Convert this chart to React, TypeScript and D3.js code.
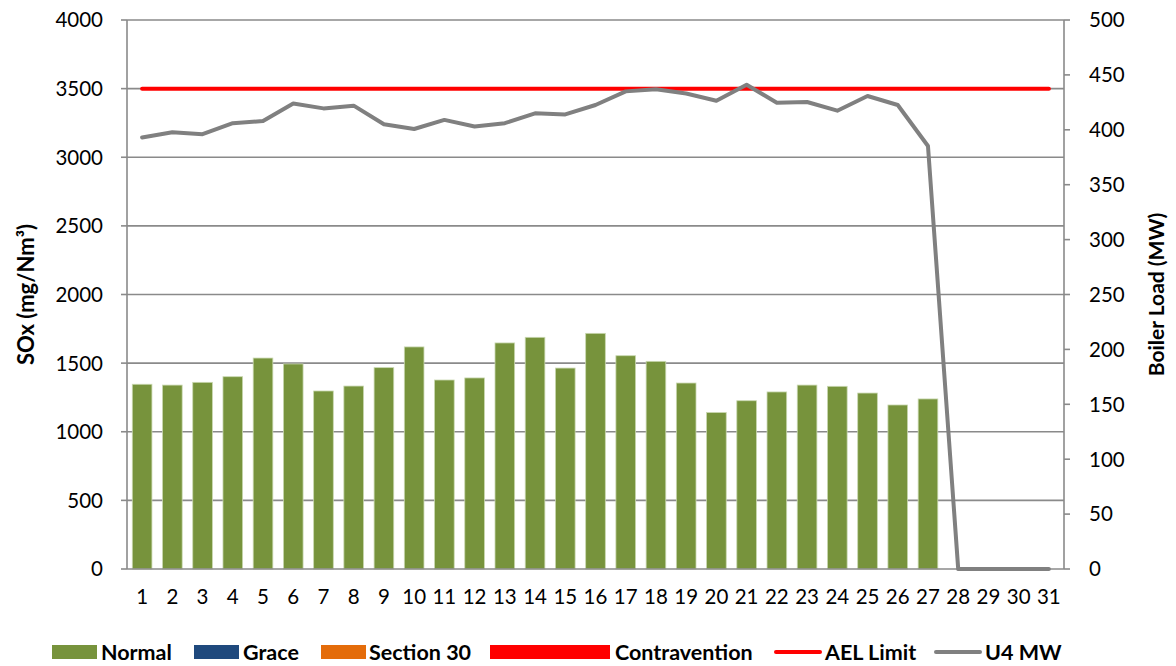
import React from "react";
import { scaleLinear, scaleBand, line } from "d3";

const days = Array.from({ length: 31 }, (_, i) => String(i + 1));
// SOx (mg/Nm3), Normal series; days 28-31 empty
const normal = [1346, 1340, 1360, 1401, 1537, 1494, 1297, 1333, 1467, 1618, 1377, 1392, 1647, 1688, 1464, 1717,
  1554, 1513, 1355, 1140, 1226, 1290, 1340, 1331, 1282, 1195, 1239, null, null, null, null];
// U4 MW boiler load
const u4mw = [393, 397.7, 396, 406, 408, 424, 419.5, 422, 405, 400.7, 409, 403, 406, 415, 414, 422.6,
  435, 437, 433, 426.5, 441, 424.7, 425.3, 417.4, 430.8, 422.6, 385.2, 0, 0, 0, 0];
const aelLimit = 3500;
const leftTicks = [0, 500, 1000, 1500, 2000, 2500, 3000, 3500, 4000];
const rightTicks = [0, 50, 100, 150, 200, 250, 300, 350, 400, 450, 500];
const legendItems = [
  { name: "Normal", color: "#77933C", type: "rect", x: 52, tx: 101 },
  { name: "Grace", color: "#1F497D", type: "rect", x: 194, tx: 243 },
  { name: "Section 30", color: "#E46C0A", type: "rect", x: 321, tx: 369 },
  { name: "Contravention", color: "#FF0000", type: "rect", x: 490, tx: 615 },
  { name: "AEL Limit", color: "#FF0000", type: "line", x: 774, tx: 825 },
  { name: "U4 MW", color: "#808080", type: "line", x: 934, tx: 985 },
];

export default function App() {
  const left = 127, right = 1064, top = 20, bottom = 569;
  const x = scaleBand().domain(days).range([left, right]).paddingInner(0.35).paddingOuter(0.175);
  const xc = (d: string) => (x(d) as number) + x.bandwidth() / 2;
  const yL = scaleLinear().domain([0, 4000]).range([bottom, top]);
  const yR = scaleLinear().domain([0, 500]).range([bottom, top]);
  const font = "Lato, 'Open Sans', sans-serif";

  const mwLine = line<number>().x((_, i) => xc(days[i])).y((d) => yR(d));

  return (
    <svg width={1176} height={666} style={{ position: "absolute", left: 0, top: 0, background: "#fff" }} fontFamily={font}>
      {leftTicks.map((t) => (
        <g key={t}>
          {t > 0 && <line x1={left} x2={right} y1={yL(t)} y2={yL(t)} stroke="#8a8a8a" strokeWidth={1.6} />}
          <line x1={left - 6} x2={left} y1={yL(t)} y2={yL(t)} stroke="#8a8a8a" strokeWidth={1.6} />
          <text x={103} y={yL(t)} textAnchor="end" dy="0.36em" fontSize={20.5} fill="#000">{t}</text>
        </g>
      ))}
      {rightTicks.map((t) => (
        <g key={t}>
          <line x1={right} x2={right + 6} y1={yR(t)} y2={yR(t)} stroke="#8a8a8a" strokeWidth={1.6} />
          <text x={1089} y={yR(t)} dy="0.36em" fontSize={20.5} fill="#000">{t}</text>
        </g>
      ))}
      {normal.map((v, i) =>
        v == null ? null : (
          <rect key={i} x={x(days[i])} y={yL(v)} width={x.bandwidth()} height={bottom - yL(v)}
            fill="#77933C" stroke="#c9d8b0" strokeWidth={0.8} />
        )
      )}
      <line x1={left} x2={left} y1={top} y2={bottom} stroke="#8a8a8a" strokeWidth={1.6} />
      <line x1={right} x2={right} y1={top} y2={bottom} stroke="#8a8a8a" strokeWidth={1.6} />
      <line x1={left} x2={right} y1={bottom} y2={bottom} stroke="#8a8a8a" strokeWidth={1.6} />
      {days.map((d) => (
        <text key={d} x={xc(d)} y={597} textAnchor="middle" dy="0.36em" fontSize={20.5} fill="#000">{d}</text>
      ))}
      <line x1={xc(days[0])} x2={xc(days[30])} y1={yL(aelLimit)} y2={yL(aelLimit)} stroke="#FF0000"
        strokeWidth={4} strokeLinecap="round" />
      <path d={mwLine(u4mw) || ""} fill="none" stroke="#808080" strokeWidth={4} strokeLinejoin="round" strokeLinecap="round" />
      <text transform={`translate(34,${(top + bottom) / 2}) rotate(-90)`} textAnchor="middle" fontSize={22}
        fontWeight="bold">SOx (mg/Nm³)</text>
      <text transform={`translate(1164,${(top + bottom) / 2}) rotate(-90)`} textAnchor="middle" fontSize={21}
        fontWeight="bold">Boiler Load (MW)</text>
      {legendItems.map((it) => (
        <g key={it.name}>
          {it.type === "rect" ? (
            <rect x={it.x} y={645} width={it.name === "Contravention" ? 120 : 45} height={14} fill={it.color} />
          ) : (
            <line x1={it.x + 2} x2={it.x + 46} y1={652} y2={652} stroke={it.color} strokeWidth={4} strokeLinecap="round" />
          )}
          <text x={it.tx} y={652} dy="0.36em" fontSize={21.5} fontWeight="bold">{it.name}</text>
        </g>
      ))}
    </svg>
  );
}
